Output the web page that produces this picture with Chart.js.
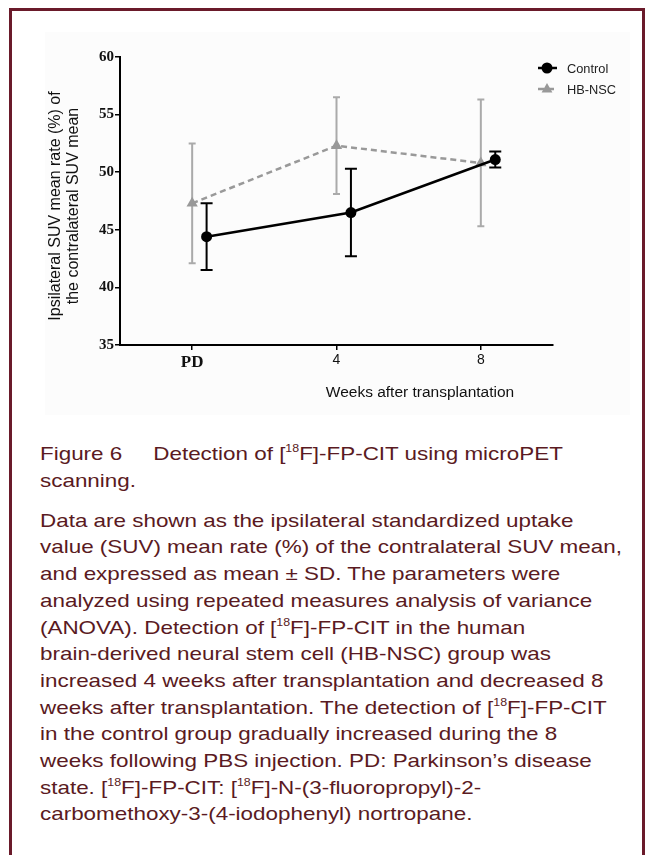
<!DOCTYPE html>
<html>
<head>
<meta charset="utf-8">
<script src="https://cdn.jsdelivr.net/npm/chart.js@4.4.1/dist/chart.umd.min.js"></script>
<style>
  html, body { margin: 0; padding: 0; background: #fff; }
  body { width: 646px; height: 855px; position: relative; overflow: hidden; font-family: "Liberation Sans", Arial, sans-serif; }
  .frame { position: absolute; left: 9px; top: 8px; width: 630px; height: 900px; border: 3px solid #6a1a2a; }
  .plotBg { position: absolute; left: 45px; top: 32px; width: 585px; height: 383px; background: #fcfcfc; }
  #chart { position: absolute; left: 0; top: 0; }
  .caption { position: absolute; left: 40px; top: 441px; color: #5a1a22; font-size: 19px; line-height: 26.7px; white-space: nowrap; transform: scaleX(1.18); transform-origin: 0 0; }
  .caption p { margin: 0; }
  .caption p + p { margin-top: 13.3px; }
  .gap { display: inline-block; width: 21px; }
  sup { font-size: 10.5px; line-height: 0; vertical-align: 8px; }
</style>
</head>
<body>
<div class="frame"></div>
<div class="plotBg"></div>
<canvas id="chart" width="646" height="420"></canvas>
<div class="caption">
  <p>Figure 6<span class="gap"></span> Detection of [<sup>18</sup>F]-FP-CIT using microPET<br>scanning.</p>
  <p>Data are shown as the ipsilateral standardized uptake<br>
  value (SUV) mean rate (%) of the contralateral SUV mean,<br>
  and expressed as mean ± SD. The parameters were<br>
  analyzed using repeated measures analysis of variance<br>
  (ANOVA). Detection of [<sup>18</sup>F]-FP-CIT in the human<br>
  brain-derived neural stem cell (HB-NSC) group was<br>
  increased 4 weeks after transplantation and decreased 8<br>
  weeks after transplantation. The detection of [<sup>18</sup>F]-FP-CIT<br>
  in the control group gradually increased during the 8<br>
  weeks following PBS injection. PD: Parkinson’s disease<br>
  state. [<sup>18</sup>F]-FP-CIT: [<sup>18</sup>F]-N-(3-fluoropropyl)-2-<br>
  carbomethoxy-3-(4-iodophenyl) nortropane.</p>
</div>
<script>
// data
const weeks = [0, 4, 8];
const tickLabels = ['PD', '4', '8'];
const yTicks = [35, 40, 45, 50, 55, 60];
const controlMean = [44.4, 46.5, 51.1];
const controlSD = [2.9, 3.8, 0.7];
const hbMean = [47.3, 52.3, 50.8];
const hbSD = [5.2, 4.2, 5.5];
const controlShift = 0.4; // control group plotted a bit to the right

const SANS = '"Liberation Sans", Arial, sans-serif';
const SERIF = '"Liberation Serif", "Times New Roman", serif';

// --- error bars ---
const errorBars = {
  id: 'errorBars',
  beforeDatasetsDraw(chart) {
    const { ctx, scales: { x, y } } = chart;
    for (let i = chart.data.datasets.length - 1; i >= 0; i--) {
      const ds = chart.data.datasets[i];
      ctx.save();
      ctx.strokeStyle = ds.errColor;
      ctx.lineWidth = ds.errWidth;
      ds.data.forEach((p, j) => {
        const px = x.getPixelForValue(p.x);
        const top = y.getPixelForValue(p.y + ds.sd[j]);
        const bot = y.getPixelForValue(p.y - ds.sd[j]);
        ctx.beginPath();
        ctx.moveTo(px, top); ctx.lineTo(px, bot);
        ctx.moveTo(px - ds.capHalf, top); ctx.lineTo(px + ds.capHalf, top);
        ctx.moveTo(px - ds.capHalf, bot); ctx.lineTo(px + ds.capHalf, bot);
        ctx.stroke();
      });
      ctx.restore();
    }
  }
};

// --- axis titles + legend ---
const extras = {
  id: 'extras',
  afterDraw(chart) {
    const { ctx, chartArea } = chart;
    ctx.save();
    ctx.fillStyle = '#111';
    // y title
    ctx.translate(0, (chartArea.top + chartArea.bottom) / 2 + 5);
    ctx.rotate(-Math.PI / 2);
    ctx.font = '16px ' + SANS;
    ctx.textAlign = 'center';
    ctx.textBaseline = 'middle';
    ctx.fillText('Ipsilateral SUV mean rate (%) of', 0, 56);
    ctx.fillText('the contralateral SUV mean', 0, 74);
    ctx.restore();

    ctx.save();
    ctx.fillStyle = '#111';
    ctx.font = '15.5px ' + SANS;
    ctx.textAlign = 'center';
    ctx.textBaseline = 'middle';
    ctx.fillText('Weeks after transplantation', 420, 393);

    // legend
    const rows = chart.data.datasets.map((ds, i) => ({ ds, y: 68 + i * 21 }));
    rows.forEach(({ ds, y }) => {
      ctx.strokeStyle = ds.borderColor;
      ctx.lineWidth = ds.borderWidth;
      ctx.setLineDash(ds.borderDash || []);
      ctx.beginPath();
      ctx.moveTo(538, y); ctx.lineTo(557, y);
      ctx.stroke();
      ctx.setLineDash([]);
      ctx.fillStyle = ds.pointBackgroundColor;
      ctx.beginPath();
      if (ds.pointStyle === 'triangle') {
        const r = 6;
        ctx.moveTo(547, y - r);
        ctx.lineTo(547 + r * 0.9, y + r * 0.6);
        ctx.lineTo(547 - r * 0.9, y + r * 0.6);
        ctx.closePath();
      } else {
        ctx.arc(547, y, 5.5, 0, Math.PI * 2);
      }
      ctx.fill();
      ctx.fillStyle = '#222';
      ctx.font = '12.8px ' + SANS;
      ctx.textAlign = 'left';
      ctx.textBaseline = 'middle';
      ctx.fillText(ds.label, 567, y + 1);
    });
    ctx.restore();
  }
};

new Chart(document.getElementById('chart'), {
  type: 'scatter',
  data: {
    datasets: [
      {
        label: 'Control',
        data: weeks.map((w, i) => ({ x: w + controlShift, y: controlMean[i] })),
        sd: controlSD,
        showLine: true,
        borderColor: '#000',
        borderWidth: 2.5,
        pointStyle: 'circle',
        pointRadius: 5.5,
        pointBackgroundColor: '#000',
        pointBorderWidth: 0,
        errColor: '#000',
        errWidth: 2,
        capHalf: 6
      },
      {
        label: 'HB-NSC',
        data: weeks.map((w, i) => ({ x: w, y: hbMean[i] })),
        sd: hbSD,
        showLine: true,
        borderColor: '#999',
        borderWidth: 2.5,
        borderDash: [6, 4],
        pointStyle: 'triangle',
        pointRadius: 6.5,
        pointBackgroundColor: '#999',
        pointBorderWidth: 0,
        errColor: '#aaa',
        errWidth: 2,
        capHalf: 3.5
      }
    ]
  },
  options: {
    responsive: false,
    animation: false,
    layout: { padding: { left: 0, right: 93, top: 57, bottom: 45 } },
    plugins: { legend: { display: false }, tooltip: { enabled: false } },
    scales: {
      x: {
        type: 'linear',
        min: -2,
        max: 10,
        afterBuildTicks: (s) => { s.ticks = weeks.map(v => ({ value: v })); },
        afterFit: (s) => { s.height = 30; },
        grid: { drawOnChartArea: false, drawTicks: true, tickLength: 5, color: '#000', lineWidth: 1.5 },
        border: { display: true, color: '#000', width: 2 },
        ticks: {
          color: '#111',
          padding: 2,
          maxRotation: 0,
          callback: (v) => tickLabels[weeks.indexOf(v)],
          font: (c) => (c.tick && c.tick.value === 0)
            ? { family: SERIF, weight: 'bold', size: 17 }
            : { family: SANS, size: 14 }
        }
      },
      y: {
        min: 35,
        max: 60,
        afterBuildTicks: (s) => { s.ticks = yTicks.map(v => ({ value: v })); },
        afterFit: (s) => { s.width = 120; },
        grid: { drawOnChartArea: false, drawTicks: true, tickLength: 5, color: '#000', lineWidth: 1.5 },
        border: { display: true, color: '#000', width: 2 },
        ticks: {
          color: '#111',
          padding: 1,
          font: { family: SERIF, weight: 'bold', size: 15 }
        }
      }
    }
  },
  plugins: [errorBars, extras]
});
</script>
</body>
</html>
